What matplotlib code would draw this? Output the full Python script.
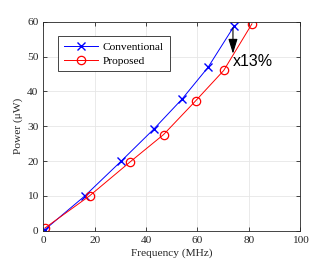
import matplotlib
matplotlib.use("Agg")
import matplotlib.pyplot as plt

conv_x = [0.6, 16.2, 30.2, 42.9, 54.0, 64.1, 74.3]
conv_y = [0.3, 10.0, 19.9, 29.1, 37.8, 46.9, 58.8]
prop_x = [0.7, 18.0, 33.7, 46.8, 59.3, 70.2, 81.2]
prop_y = [0.8, 10.0, 19.7, 27.6, 37.3, 46.0, 59.4]
xticks = [0, 20, 40, 60, 80, 100]
yticks = [0, 10, 20, 30, 40, 50, 60]

plt.rcParams['font.family'] = ['Liberation Serif', 'DejaVu Serif']
fig = plt.figure(figsize=(3.32, 2.67), dpi=100)
ax = fig.add_axes([0.1304, 0.136, 0.7741, 0.7827])

ax.plot(conv_x, conv_y, color='blue', lw=0.7, marker='x', ms=6, mew=1.0, label='Conventional')
ax.plot(prop_x, prop_y, color='red', lw=0.7, marker='o', ms=6, mew=0.9, mfc='none', label='Proposed')

ax.annotate('', xy=(73.8, 50.0), xytext=(73.8, 59.0),
            arrowprops=dict(arrowstyle='-|>,head_length=0.9,head_width=0.28', color='black', lw=0.8))
ax.text(73.6, 48.5, 'x13%', fontsize=11.5, family=['Liberation Sans', 'DejaVu Sans'], va='center', ha='left')

ax.set_xlim(0, 100)
ax.set_ylim(0, 60)
ax.set_xticks(xticks)
ax.set_yticks(yticks)
ax.grid(True, color='#e6e6e6', lw=0.6)
ax.set_axisbelow(True)
ax.tick_params(direction='in', top=True, right=True, length=3, width=0.6, labelsize=8.2, colors='#262626')
for s in ax.spines.values():
    s.set_linewidth(0.6)
    s.set_color('#262626')
ax.set_xlabel('Frequency (MHz)', fontsize=8.2, color='#262626', labelpad=3)
ax.set_ylabel('Power (μW)', fontsize=8.2, color='#262626', labelpad=3)

leg = ax.legend(loc='upper left', bbox_to_anchor=(0.057, 0.932), fontsize=8.2, fancybox=False,
                edgecolor='#262626', framealpha=1, borderpad=0.5, labelspacing=0.35,
                handlelength=3.0, handletextpad=0.45, borderaxespad=0)
leg.get_frame().set_linewidth(0.6)

fig.savefig('out.png', dpi=100)
